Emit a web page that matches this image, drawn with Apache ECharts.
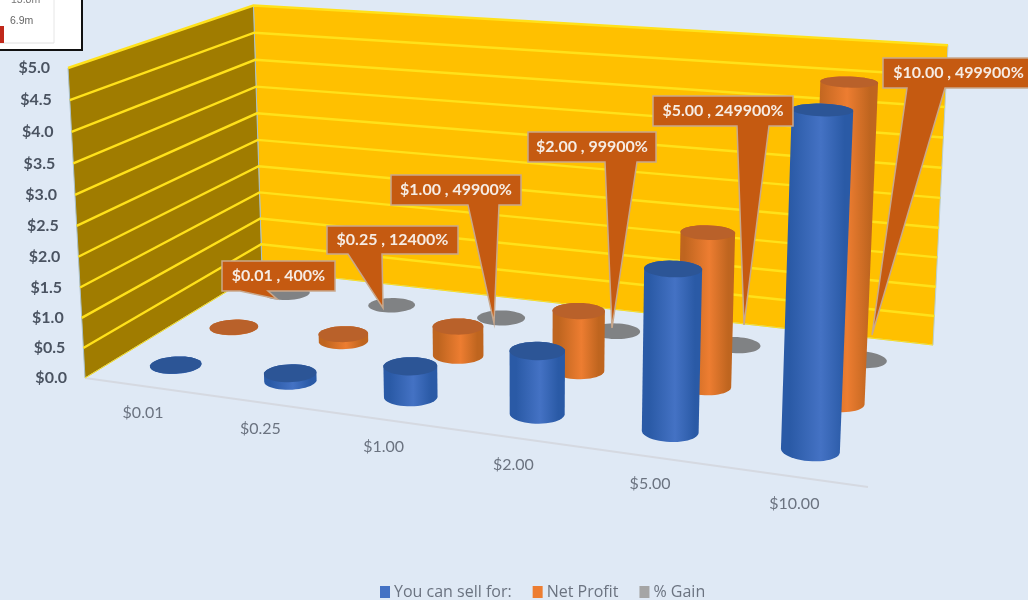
<!DOCTYPE html>
<html>
<head>
<meta charset="utf-8">
<style>html,body{margin:0;padding:0;background:#dfe9f5}#chart{width:1028px;height:600px}</style>
<script src="https://cdn.jsdelivr.net/npm/echarts@6/dist/echarts.min.js"></script>
</head>
<body>
<div id="chart"></div>
<script>
// Price points and the three plotted series
const categories = ['$0.01', '$0.25', '$1.00', '$2.00', '$5.00', '$10.00'];
const sellFor = [0.01, 0.25, 1, 2, 5, 10];
const netProfit = [0.008, 0.248, 0.998, 1.998, 4.998, 9.998];
const gainHeight = [0, 0, 0, 0, 0, 0];
const gainPercent = [400, 12400, 49900, 99900, 249900, 499900];
const valueTicks = [0, 0.5, 1, 1.5, 2, 2.5, 3, 3.5, 4, 4.5, 5];
const tickLabels = ['$0.0', '$0.5', '$1.0', '$1.5', '$2.0', '$2.5', '$3.0', '$3.5', '$4.0', '$4.5', '$5.0'];

// Perspective box: floor corners and the vanishing point of the vertical edges
const floorFL = [85, 378], floorFR = [868, 487], floorBR = [933, 345], floorBL = [262, 270];
const vertical = [527, 8446];
const frontTopY = 68;

const homography = (() => {
  const [x0, y0] = floorFL, [x1, y1] = floorFR, [x2, y2] = floorBR, [x3, y3] = floorBL;
  const dx1 = x1 - x2, dx2 = x3 - x2, sx = x0 - x1 + x2 - x3;
  const dy1 = y1 - y2, dy2 = y3 - y2, sy = y0 - y1 + y2 - y3;
  const det = dx1 * dy2 - dx2 * dy1;
  const g = (sx * dy2 - dx2 * sy) / det, h = (dx1 * sy - sx * dy1) / det;
  return { a: x1 - x0 + g * x1, b: x3 - x0 + h * x3, c: x0, d: y1 - y0 + g * y1, e: y3 - y0 + h * y3, f: y0, g, h };
})();
const lift = (frontTopY - floorFL[1]) / (vertical[1] - frontTopY);

// u: along the categories, w: into the depth, t: height, all in 0..1
function project(u, w, t) {
  const H = homography;
  const den = H.g * u + H.h * w + 1 + lift * t;
  return [
    (H.a * u + H.b * w + H.c + lift * t * vertical[0]) / den,
    (H.d * u + H.e * w + H.f + lift * t * vertical[1]) / den
  ];
}

// Turns a value on the hidden cartesian axes into box coordinates
function toBox(params, api, cat, val) {
  const p = api.coord([cat, val]);
  const r = params.coordSys;
  return { u: (p[0] - r.x) / r.width, t: (r.y + r.height - p[1]) / r.height };
}

function hull(points) {
  const pts = points.slice().sort((a, b) => a[0] - b[0] || a[1] - b[1]);
  const cross = (o, a, b) => (a[0] - o[0]) * (b[1] - o[1]) - (a[1] - o[1]) * (b[0] - o[0]);
  const lower = [], upper = [];
  for (const p of pts) {
    while (lower.length > 1 && cross(lower[lower.length - 2], lower[lower.length - 1], p) <= 0) lower.pop();
    lower.push(p);
  }
  for (const p of pts.slice().reverse()) {
    while (upper.length > 1 && cross(upper[upper.length - 2], upper[upper.length - 1], p) <= 0) upper.pop();
    upper.push(p);
  }
  return lower.slice(0, -1).concat(upper.slice(0, -1));
}

const radiusU = 0.0335, radiusW = 0.066, bandShift = 0.003;
function ring(u, w, t) {
  const out = [];
  for (let i = 0; i < 48; i++) {
    const a = i / 48 * Math.PI * 2;
    out.push(project(u + bandShift + radiusU * Math.cos(a), w + radiusW * Math.sin(a), t));
  }
  return out;
}

function cylinderSeries(name, values, depth, zLevel, edge, mid, cap) {
  return {
    type: 'custom', name, z: zLevel, xAxisIndex: 0, yAxisIndex: 1, silent: true,
    itemStyle: { color: mid },
    data: values.map((v, i) => [i, v]),
    encode: { x: 0, y: 1 },
    renderItem(params, api) {
      const { u, t } = toBox(params, api, api.value(0), api.value(1));
      const base = ring(u, depth, 0), top = ring(u, depth, t);
      const children = [];
      if (t > 0) {
        children.push({
          type: 'polygon',
          shape: { points: hull(base.concat(top)) },
          style: {
            fill: new echarts.graphic.LinearGradient(0, 0, 1, 0, [
              { offset: 0, color: edge }, { offset: 0.12, color: edge },
              { offset: 0.55, color: mid }, { offset: 0.88, color: edge }, { offset: 1, color: edge }
            ])
          }
        });
      }
      children.push({ type: 'polygon', shape: { points: top }, style: { fill: cap } });
      return { type: 'group', children };
    }
  };
}

const wallSeries = {
  type: 'custom', name: 'walls', z: 1, silent: true, xAxisIndex: 0, yAxisIndex: 0,
  data: [[0, 0]], encode: { x: 0, y: 1 },
  renderItem() {
    const side = [project(0, 0, 0), project(0, 0, 1), project(0, 1, 1), project(0, 1, 0)];
    const back = [project(0, 1, 0), project(0, 1, 1), project(1, 1, 1), project(1, 1, 0)];
    return {
      type: 'group',
      children: [
        { type: 'polygon', shape: { points: back }, style: { fill: '#ffc000', stroke: '#b9cfd2', lineWidth: 1 } },
        { type: 'polygon', shape: { points: side }, style: { fill: '#a07c00', stroke: '#a9c0c8', lineWidth: 1 } },
        { type: 'line', shape: { x1: floorFL[0], y1: floorFL[1], x2: floorFR[0], y2: floorFR[1] }, style: { stroke: '#d5d9e1', lineWidth: 2 } }
      ]
    };
  }
};

const tickSeries = {
  type: 'custom', name: 'ticks', z: 2, silent: true, xAxisIndex: 0, yAxisIndex: 0,
  data: valueTicks.map((v, i) => [0, v, tickLabels[i]]), encode: { x: 0, y: 1 },
  renderItem(params, api) {
    const { t } = toBox(params, api, 0, api.value(1));
    const a = project(0, 0, t), b = project(0, 1, t), c = project(1, 1, t);
    return {
      type: 'group',
      children: [
        { type: 'polyline', shape: { points: [a, b, c] }, style: { stroke: '#ffe11a', fill: null, lineWidth: t === 0 ? 1 : 2.4 } },
        {
          type: 'text', x: a[0] - 18, y: a[1],
          style: { text: tickLabels[params.dataIndex], fill: '#4a5361', font: 'bold 16px Lato', align: 'right', verticalAlign: 'middle' }
        }
      ]
    };
  }
};

const categorySeries = {
  type: 'custom', name: 'categories', z: 2, silent: true, xAxisIndex: 0, yAxisIndex: 0,
  data: categories.map((c, i) => [i, 0]), encode: { x: 0, y: 1 },
  renderItem(params, api) {
    const { u } = toBox(params, api, api.value(0), 0);
    const p = project(u, 0, 0);
    return {
      type: 'text', x: p[0] + 1.5, y: p[1] + 27,
      style: { text: categories[params.dataIndex], fill: '#6b7380', font: '16px Lato', align: 'center', verticalAlign: 'middle' }
    };
  }
};

const calloutLayout = [
  { box: [222, 261, 335, 291], tail: [240, 268], tip: [277, 299] },
  { box: [327, 226, 458, 254], tail: [348, 382], tip: [383, 308] },
  { box: [391, 175, 521, 205], tail: [468, 499], tip: [494, 323] },
  { box: [528, 132, 656, 162], tail: [605, 637], tip: [612, 328] },
  { box: [653, 96, 793, 126], tail: [737, 769], tip: [744, 325] },
  { box: [883, 58, 1034, 88], tail: [907, 945], tip: [872, 335] }
];

const calloutSeries = {
  type: 'custom', name: 'callouts', z: 8, silent: true, xAxisIndex: 0, yAxisIndex: 1,
  data: gainHeight.map((v, i) => [i, v]), encode: { x: 0, y: 1 },
  renderItem(params) {
    const i = params.dataIndex, c = calloutLayout[i];
    const [l, t, r, b] = c.box;
    const label = categories[i] + ' , ' + gainPercent[i] + '%';
    return {
      type: 'group',
      children: [
        {
          type: 'polygon',
          shape: { points: [[l, t], [r, t], [r, b], [c.tail[1], b], c.tip, [c.tail[0], b], [l, b]] },
          style: { fill: '#c55a11', stroke: '#c9a88c', lineWidth: 1.5 }
        },
        {
          type: 'text', x: (l + r) / 2, y: (t + b) / 2,
          style: { text: label, fill: '#f6ece4', font: 'bold 16px Lato', align: 'center', verticalAlign: 'middle' }
        }
      ]
    };
  }
};

const chart = echarts.init(document.getElementById('chart'), null, { renderer: 'canvas' });
chart.setOption({
  animation: false,
  backgroundColor: '#dfe9f5',
  grid: { left: 100, right: 100, top: 60, bottom: 60 },
  xAxis: { type: 'category', data: categories, show: false },
  yAxis: [
    { type: 'value', min: 0, max: 5, interval: 0.5, show: false },
    { type: 'value', min: 0, max: 10.1, show: false }
  ],
  legend: {
    left: 375, top: 579, itemWidth: 10, itemHeight: 12, itemGap: 21,
    icon: 'rect', selectedMode: false,
    data: ['You can sell for:', 'Net Profit', '% Gain'],
    textStyle: { color: '#6b7380', fontSize: 16, fontFamily: '"Open Sans"', padding: [0, 0, 0, -1] }
  },
  series: [
    wallSeries, tickSeries, categorySeries,
    cylinderSeries('% Gain', gainHeight, 0.82, 3, '#7f8182', '#a5a5a5', '#808284'),
    cylinderSeries('Net Profit', netProfit, 0.49, 4, '#bf651f', '#ed7d31', '#b9612a'),
    cylinderSeries('You can sell for:', sellFor, 0.165, 5, '#2a5aa6', '#4472c4', '#2c5596'),
    calloutSeries
  ],
  graphic: [
    { type: 'rect', shape: { x: -3, y: -3, width: 85, height: 53 }, style: { fill: '#fff', stroke: '#111', lineWidth: 2 }, z: 20 },
    { type: 'line', shape: { x1: 54, y1: 0, x2: 54, y2: 43 }, style: { stroke: '#e6e6e6', lineWidth: 1 }, z: 21 },
    { type: 'line', shape: { x1: 0, y1: 43, x2: 54, y2: 43 }, style: { stroke: '#e0e0e0', lineWidth: 1 }, z: 21 },
    { type: 'rect', shape: { x: 0, y: 26, width: 4, height: 17 }, style: { fill: '#c0281a' }, z: 21 },
    { type: 'text', x: 11, y: -5, style: { text: '13.8m', fill: '#777', font: '10.5px "Liberation Sans"' }, z: 21 },
    { type: 'text', x: 10, y: 16, style: { text: '6.9m', fill: '#666', font: '10.5px "Liberation Sans"' }, z: 21 }
  ]
});
</script>
</body>
</html>
